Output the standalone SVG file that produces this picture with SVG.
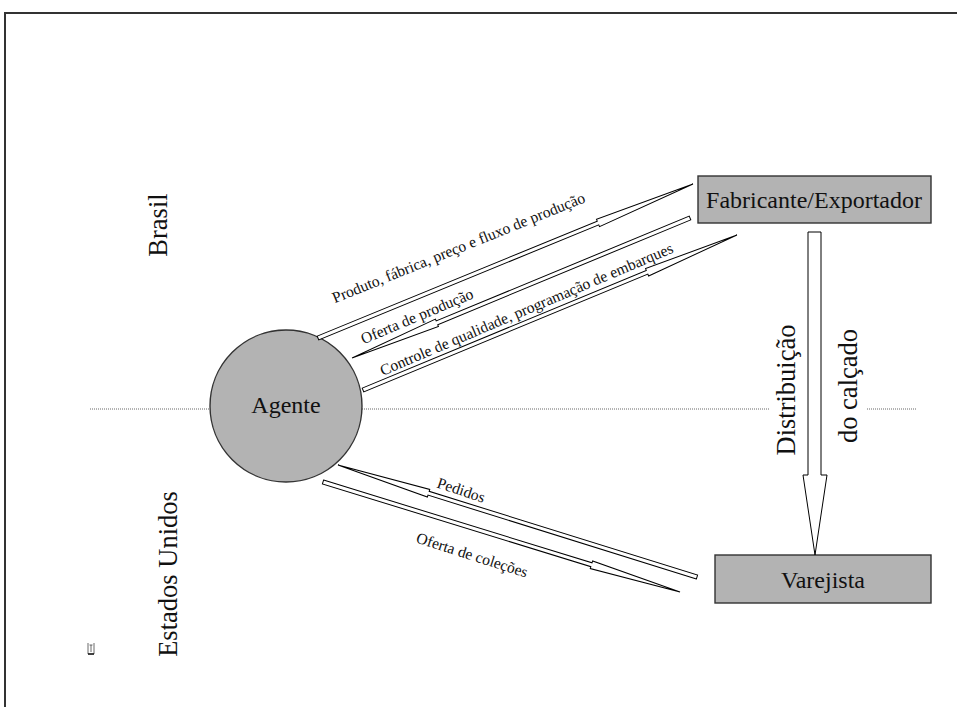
<svg xmlns="http://www.w3.org/2000/svg" width="957" height="707" viewBox="0 0 957 707">
  <style>
    .frame { fill: none; stroke: #333; stroke-width: 2; }
    .node { fill: #b3b3b3; stroke: #333; stroke-width: 1.4; }
    .arrow { fill: #fff; stroke: #000; stroke-width: 1; stroke-linejoin: miter; }
    .divider { fill: none; stroke: #666; stroke-width: 1; stroke-dasharray: 1 1; }
    text { font-family: 'Liberation Serif', 'DejaVu Serif', serif; fill: #111; }
    .big { font-size: 24px; }
    .side { font-size: 26.5px; }
    .label { font-size: 15.6px; }
  </style>

  <rect width="957" height="707" fill="#fff"/>

  <!-- page frame -->
  <polyline class="frame" points="957,13 5,13 5,707"/>

  <!-- country divider -->
  <g id="divider">
    <line class="divider" x1="90" y1="409" x2="210" y2="409"/>
    <line class="divider" x1="362" y1="409" x2="770" y2="409"/>
    <line class="divider" x1="867" y1="409" x2="917" y2="409"/>
  </g>

  <!-- region names -->
  <text class="side" font-family="Liberation Serif, serif" transform="translate(167,225) rotate(-90)" text-anchor="middle">Brasil</text>
  <text class="side" font-family="Liberation Serif, serif" transform="translate(177,574) rotate(-90)" text-anchor="middle">Estados Unidos</text>

  <!-- nodes -->
  <g id="agente">
    <circle class="node" cx="286" cy="406" r="76"/>
    <text class="big" x="286" y="413" text-anchor="middle">Agente</text>
  </g>
  <g id="fabricante">
    <rect class="node" x="698" y="176" width="233" height="47"/>
    <text class="big" x="814" y="208" text-anchor="middle">Fabricante/Exportador</text>
  </g>
  <g id="varejista">
    <rect class="node" x="715" y="555" width="216" height="48"/>
    <text class="big" x="823" y="588" text-anchor="middle">Varejista</text>
  </g>

  <!-- connectors -->
  <g id="connectors">
    <polygon class="arrow" transform="translate(318,338) rotate(-22.33)" points="0,-2 302.7,-2 302.7,-4 405.4,0 302.7,4 302.7,2 0,2"/>
    <polygon class="arrow" transform="translate(690,218) rotate(157.5)" points="0,-2 273.9,-2 273.9,-4 365.8,0 273.9,4 273.9,2 0,2"/>
    <polygon class="arrow" transform="translate(363,390) rotate(-22.51)" points="0,-2 307.5,-2 307.5,-4 404.8,0 307.5,4 307.5,2 0,2"/>
    <polygon class="arrow" transform="translate(697,577) rotate(-162.67)" points="0,-2 281.2,-2 281.2,-4 376.1,0 281.2,4 281.2,2 0,2"/>
    <polygon class="arrow" transform="translate(323,482) rotate(17.13)" points="0,-2 280.9,-2 280.9,-4 373.6,0 280.9,4 280.9,2 0,2"/>
    <polygon class="arrow" points="808,232 821,232 821,475 827,475 815,555 803,475 808,475"/>

    <text class="label" transform="translate(460.5,252.5) rotate(-22)" text-anchor="middle">Produto, fábrica, preço e fluxo de produção</text>
    <text class="label" transform="translate(419,321) rotate(-22.8)" text-anchor="middle">Oferta de produção</text>
    <text class="label" transform="translate(528.5,314) rotate(-23)" text-anchor="middle">Controle de qualidade, programação de embarques</text>
    <text class="label" transform="translate(459.5,495) rotate(18.5)" text-anchor="middle">Pedidos</text>
    <text class="label" transform="translate(470.5,560) rotate(17.7)" text-anchor="middle">Oferta de coleções</text>

    <text class="side" transform="translate(795,390) rotate(-90)" text-anchor="middle">Distribuição</text>
    <text class="side" transform="translate(857,386) rotate(-90)" text-anchor="middle">do calçado</text>
  </g>

  <!-- small anchor mark -->
  <path d="M88,643 v11 M94,643 v11 M91,645 v7 M89.5,645 h3" fill="none" stroke="#444" stroke-width="0.8"/>
  <path d="M88,654 h6" fill="none" stroke="#111" stroke-width="1.6"/>
</svg>
